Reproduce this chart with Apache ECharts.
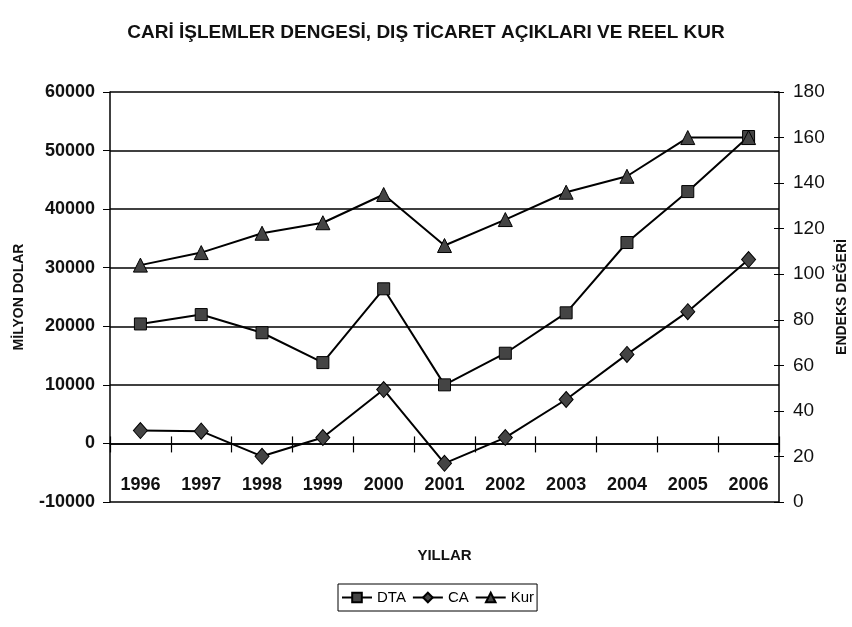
<!DOCTYPE html>
<html>
<head>
<meta charset="utf-8">
<script src="https://cdn.jsdelivr.net/npm/echarts@6/dist/echarts.min.js"></script>
<style>
  html, body { margin: 0; padding: 0; background: #fff; }
  #chart { width: 852px; height: 627px; }
</style>
</head>
<body>
<div id="chart"></div>
<script>
var years = ['1996', '1997', '1998', '1999', '2000', '2001', '2002', '2003', '2004', '2005', '2006']
// milyon dolar
var dta = [20400, 22000, 18900, 13800, 26400, 10000, 15400, 22300, 34300, 43000, 52400]
var ca = [2200, 2100, -2200, 1000, 9200, -3400, 1000, 7500, 15200, 22500, 31400]
// endeks degeri
var kur = [104, 109.5, 118, 122.6, 135, 112.6, 124, 136, 143, 160, 160]

var font = '"Liberation Sans", Arial, sans-serif'

var chart = echarts.init(document.getElementById('chart'))

function lineSeries(name, data, symbol, size, yIndex) {
  return {
    name: name,
    type: 'line',
    data: data,
    yAxisIndex: yIndex,
    symbol: symbol,
    symbolSize: size,
    showAllSymbol: true,
    lineStyle: { color: '#000', width: 2 },
    itemStyle: { color: '#444', borderColor: '#000', borderWidth: 1 },
    emphasis: { disabled: true }
  }
}

chart.setOption({
  animation: false,
  backgroundColor: '#fff',
  title: {
    text: 'CARİ İŞLEMLER DENGESİ, DIŞ TİCARET AÇIKLARI VE REEL KUR',
    left: 'center',
    top: 18,
    textStyle: { fontFamily: font, fontSize: 19, fontWeight: 'bold', color: '#111' }
  },
  legend: {
    data: ['DTA', 'CA', 'Kur'],
    left: 338,
    top: 584,
    itemWidth: 30,
    itemHeight: 12,
    itemGap: 6,
    padding: [6, 3, 6, 3],
    borderColor: '#000',
    borderWidth: 1,
    textStyle: { fontFamily: font, fontSize: 15, color: '#000' }
  },
  grid: { left: 110, right: 73, top: 92, bottom: 125, outerBoundsMode: 'none' },
  xAxis: [
    {
      // labels and axis name, sitting just above the bottom edge
      type: 'category',
      data: years,
      boundaryGap: true,
      position: 'bottom',
      axisLine: { show: false, onZero: false },
      axisTick: { show: false },
      axisLabel: { inside: true, interval: 0, margin: 8, fontFamily: font, fontSize: 18, fontWeight: 'bold', color: '#111' },
      name: 'YILLAR',
      nameLocation: 'middle',
      nameGap: 46,
      nameTextStyle: { fontFamily: font, fontSize: 15, fontWeight: 'bold', color: '#111' }
    },
    {
      type: 'category',
      data: years,
      boundaryGap: true,
      position: 'bottom',
      axisLine: { show: true, onZero: true, onZeroAxisIndex: 0, lineStyle: { color: '#000', width: 1.5 } },
      axisTick: { show: true, length: 9, lineStyle: { color: '#000', width: 1.2 } },
      axisLabel: { show: false },
      splitLine: { show: false }
    },
    {
      type: 'category',
      data: years,
      boundaryGap: true,
      position: 'bottom',
      axisLine: { show: false, onZero: true, onZeroAxisIndex: 0 },
      axisTick: { show: true, inside: true, length: 7, lineStyle: { color: '#000', width: 1.2 } },
      axisLabel: { show: false },
      splitLine: { show: false }
    }
  ],
  yAxis: [
    {
      type: 'value',
      min: -10000,
      max: 60000,
      interval: 10000,
      position: 'left',
      axisLine: { show: true, lineStyle: { color: '#000', width: 1.5 } },
      axisTick: { show: true, length: 7, lineStyle: { color: '#000' } },
      axisLabel: {
        margin: 15,
        fontFamily: font,
        fontSize: 18,
        fontWeight: 'bold',
        color: '#111',
        formatter: function(v) {
          return String(v)
        }
      },
      splitLine: { show: true, lineStyle: { color: '#000', width: 1.5 } },
      name: 'MİLYON DOLAR',
      nameLocation: 'middle',
      nameGap: 84,
      nameTextStyle: { fontFamily: font, fontSize: 14, fontWeight: 'bold', color: '#111' }
    },
    {
      type: 'value',
      min: 0,
      max: 180,
      interval: 20,
      position: 'right',
      axisLine: { show: true, lineStyle: { color: '#000', width: 1.5 } },
      axisTick: { show: true, length: 5, lineStyle: { color: '#000' } },
      axisLabel: { margin: 14, fontFamily: font, fontSize: 19, color: '#111' },
      splitLine: { show: false },
      name: 'ENDEKS DEĞERİ',
      nameLocation: 'middle',
      nameGap: 56,
      nameTextStyle: { fontFamily: font, fontSize: 14, fontWeight: 'bold', color: '#111' }
    },
    {
      type: 'value',
      min: 0,
      max: 180,
      interval: 20,
      position: 'right',
      axisLine: { show: false },
      axisTick: { show: true, inside: true, length: 5, lineStyle: { color: '#000' } },
      axisLabel: { show: false },
      splitLine: { show: false }
    }
  ],
  series: [
    lineSeries('DTA', dta, 'rect', 12, 0),
    lineSeries('CA', ca, 'diamond', [14, 16], 0),
    lineSeries('Kur', kur, 'triangle', 14, 1)
  ]
})
</script>
</body>
</html>
